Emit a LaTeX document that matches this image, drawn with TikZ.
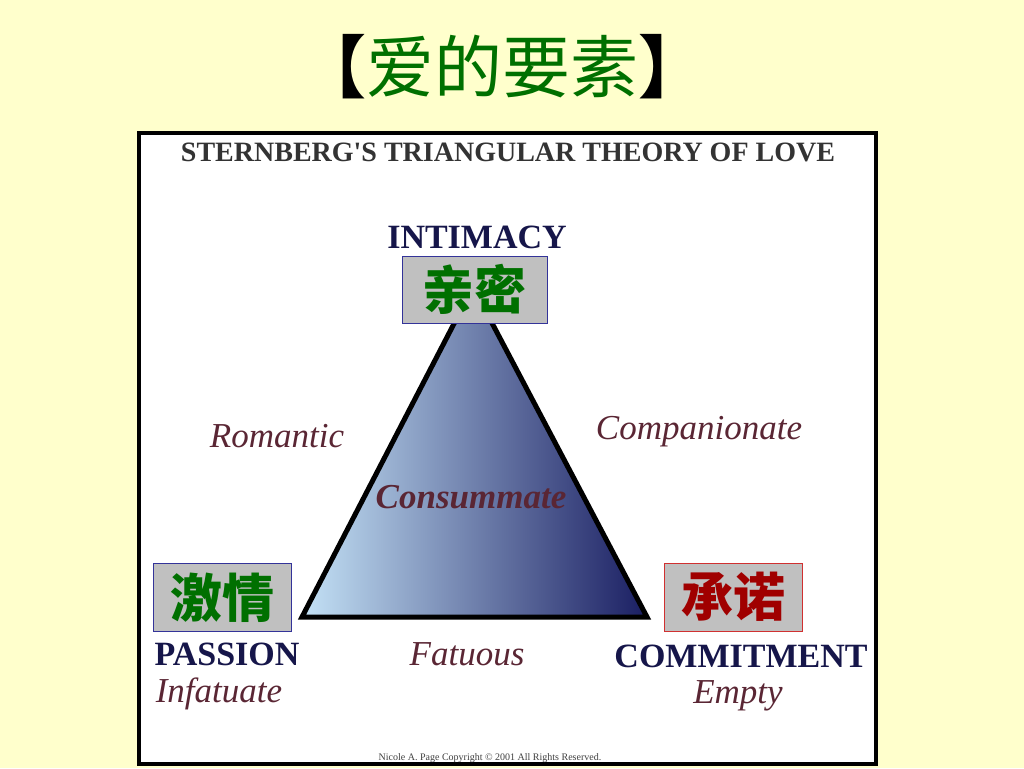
\documentclass[tikz,border=0pt]{standalone}
\usepackage{fontspec}
\setmainfont{Liberation Serif}
\newfontfamily\cjk{Noto Sans CJK SC}
\definecolor{slide}{HTML}{FFFFCC}
\definecolor{cngreen}{HTML}{007000}
\definecolor{cnred}{HTML}{A00000}
\definecolor{boxgray}{HTML}{C0C0C0}
\definecolor{boxblue}{HTML}{333399}
\definecolor{boxred}{HTML}{D03030}
\definecolor{navy}{HTML}{16164A}
\definecolor{kindred}{HTML}{5A2634}
\definecolor{triLight}{HTML}{C4E2F6}
\definecolor{triMid}{HTML}{7290C0}
\definecolor{triDark}{HTML}{1A1E62}
\tikzset{
  cnbox/.style={draw=#1, line width=1pt, fill=boxgray, minimum width=138pt,
    minimum height=68pt, inner sep=0pt, font=\cjk\bfseries\fontsize{52}{52}\selectfont},
  corner/.style={anchor=base, text=navy, font=\bfseries\fontsize{34}{34}\selectfont},
  kind/.style={anchor=base, text=kindred, font=\itshape\fontsize{35}{35}\selectfont},
}
\begin{document}
\begin{tikzpicture}[x=1pt,y=-1pt]
  \useasboundingbox (0,0) rectangle (1024,768);
  \fill[slide] (0,0) rectangle (1024,768);
  \draw[line width=3.5pt, fill=white] (139,133) rectangle (876,764);
  % title
  \node[anchor=base, text=cngreen, font=\cjk\fontsize{68}{68}\selectfont] (title)
    at (502,92) {\textcolor{black}{\bfseries 【}爱的要素\textcolor{black}{\bfseries 】}};
  \node[anchor=base, text=black!80, font=\bfseries\fontsize{28}{28}\selectfont] (head)
    at (508,161) {STERNBERG\textquotesingle S TRIANGULAR THEORY OF LOVE};
  % triangle
  \coordinate (apex) at (473,287);
  \coordinate (left) at (302,617);
  \coordinate (right) at (647,617);
  \draw[line width=5pt, left color=triLight, middle color=triMid, right color=triDark]
    (apex) -- (left) -- (right) -- cycle;
  % corners
  \node[corner] (intimacy) at (477,248) {INTIMACY};
  \node[corner] (passion) at (227,665) {PASSION};
  \node[corner] (commitment) at (741,667) {COMMITMENT};
  % kinds of love
  \node[kind] (romantic) at (277,447) {Romantic};
  \node[kind] (companionate) at (699,439) {Companionate};
  \node[kind, font=\bfseries\itshape\fontsize{35}{35}\selectfont] (consummate)
    at (471,508) {Consummate};
  \node[kind] (fatuous) at (467,665) {Fatuous};
  \node[kind] (infatuate) at (219,702) {Infatuate};
  \node[kind] (empty) at (738,703) {Empty};
  % chinese boxes
  \node[cnbox=boxblue, text=cngreen, minimum width=145pt, minimum height=67pt] (qinmi)
    at (474.5,289.5) {亲密};
  \node[cnbox=boxblue, text=cngreen] (jiqing) at (222,597.5) {激情};
  \node[cnbox=boxred, text=cnred] (chengnuo) at (733.5,597) {承诺};
  \node[anchor=base, text=black!75, font=\fontsize{10}{10}\selectfont] (credit)
    at (490,760) {Nicole A. Page Copyright © 2001 All Rights Reserved.};
\end{tikzpicture}
\end{document}
